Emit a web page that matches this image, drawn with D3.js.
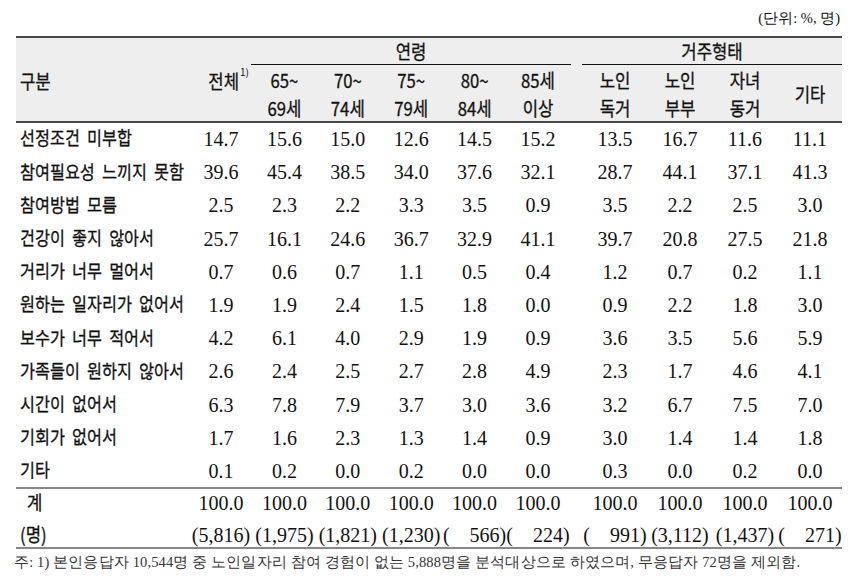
<!DOCTYPE html>
<html>
<head>
<meta charset="utf-8">
<script src="https://cdn.jsdelivr.net/npm/d3@7"></script>
<style>
  body { margin: 0; background: #fff; }
  svg text { white-space: pre; }
  .kr { font-family: "Noto Sans CJK KR", "Liberation Sans", sans-serif; fill: #111; stroke: #111; stroke-width: 0.3px; }
  .num { font-family: "Liberation Serif", "Times New Roman", serif; font-size: 20px; fill: #111; }
</style>
</head>
<body>
<svg class="svg" width="857" height="588"></svg>
<script>
// row labels
var categories = ['선정조건 미부합', '참여필요성 느끼지 못함', '참여방법 모름', '건강이 좋지 않아서',
  '거리가 너무 멀어서', '원하는 일자리가 없어서', '보수가 너무 적어서', '가족들이 원하지 않아서',
  '시간이 없어서', '기회가 없어서', '기타'];

// column headers
var ageLabels = [['65~', '69세'], ['70~', '74세'], ['75~', '79세'], ['80~', '84세'], ['85세', '이상']];
var houseLabels = [['노인', '독거'], ['노인', '부부'], ['자녀', '동거'], ['기타']];

// values per column
var total = [14.7, 39.6, 2.5, 25.7, 0.7, 1.9, 4.2, 2.6, 6.3, 1.7, 0.1];
var age65 = [15.6, 45.4, 2.3, 16.1, 0.6, 1.9, 6.1, 2.4, 7.8, 1.6, 0.2];
var age70 = [15.0, 38.5, 2.2, 24.6, 0.7, 2.4, 4.0, 2.5, 7.9, 2.3, 0.0];
var age75 = [12.6, 34.0, 3.3, 36.7, 1.1, 1.5, 2.9, 2.7, 3.7, 1.3, 0.2];
var age80 = [14.5, 37.6, 3.5, 32.9, 0.5, 1.8, 1.9, 2.8, 3.0, 1.4, 0.0];
var age85 = [15.2, 32.1, 0.9, 41.1, 0.4, 0.0, 0.9, 4.9, 3.6, 0.9, 0.0];
var alone = [13.5, 28.7, 3.5, 39.7, 1.2, 0.9, 3.6, 2.3, 3.2, 3.0, 0.3];
var couple = [16.7, 44.1, 2.2, 20.8, 0.7, 2.2, 3.5, 1.7, 6.7, 1.4, 0.0];
var withChild = [11.6, 37.1, 2.5, 27.5, 0.2, 1.8, 5.6, 4.6, 7.5, 1.4, 0.2];
var other = [11.1, 41.3, 3.0, 21.8, 1.1, 3.0, 5.9, 4.1, 7.0, 1.8, 0.0];
var sums = [100.0, 100.0, 100.0, 100.0, 100.0, 100.0, 100.0, 100.0, 100.0, 100.0];
var counts = [5816, 1975, 1821, 1230, 566, 224, 991, 3112, 1437, 271];

var columns = [total, age65, age70, age75, age80, age85, alone, couple, withChild, other];

var svg = d3.select('.svg');
var left = 16, right = 842;

// x positions: total + age columns, then household columns
var xAge = d3.scalePoint().domain(d3.range(6)).range([221, 538]);
var xHouse = d3.scalePoint().domain(d3.range(4)).range([615, 810]);
function colX(i) { return i < 6 ? xAge(i) : xHouse(i - 6); }

var y = d3.scalePoint().domain(categories).range([139, 471]);

var fmt = d3.format('.1f');
var fmtN = d3.format(',');

// unit note
svg.append('text').attr('class', 'num')
  .attr('x', 840).attr('y', 23).attr('text-anchor', 'end')
  .style('font-size', '14.5px')
  .text('(단위: %, 명)');

// header background
svg.append('rect')
  .attr('x', left).attr('y', 37).attr('width', right - left).attr('height', 85)
  .attr('fill', '#eeeeee');

// header lines
function hline(x1, x2, yy, w) {
  svg.append('line').attr('x1', x1).attr('x2', x2).attr('y1', yy).attr('y2', yy)
    .attr('stroke', '#111').attr('stroke-width', w);
}
hline(left, right, 37, 1.5);
hline(251, 571, 64.5, 1);
hline(582, right, 64.5, 1);
hline(left, right, 122, 1.5);
hline(left, right, 488, 1.2);
hline(left, right, 548, 1.2);

// condensed korean text like the original
function headText(x, yy, s, anchor, size) {
  return svg.append('text').attr('class', 'kr')
    .attr('transform', 'translate(' + x + ',' + yy + ') scale(0.88,1)')
    .attr('text-anchor', anchor || 'middle')
    .attr('dy', '0.35em')
    .style('font-size', (size || 19) + 'px')
    .style('word-spacing', '4px')
    .text(s);
}

headText(20, 82, '구분', 'start');
headText(239, 82, '전체', 'end');
svg.append('text').attr('class', 'kr')
  .attr('x', 240).attr('y', 76).style('font-size', '10px').style('stroke-width', 0).text('1)');
headText((251 + 571) / 2, 52, '연령');
headText((582 + right) / 2, 52, '거주형태');

ageLabels.forEach(function (d, i) {
  headText(xAge(i + 1), 81, d[0]);
  headText(xAge(i + 1), 109, d[1]);
});
houseLabels.forEach(function (d, i) {
  if (d.length === 2) {
    headText(xHouse(i), 81, d[0]);
    headText(xHouse(i), 109, d[1]);
  } else {
    headText(xHouse(i), 95, d[0]);
  }
});

// row labels
categories.forEach(function (d) {
  headText(20, y(d), d, 'start', 18.5);
});

// body cells
columns.forEach(function (col, ci) {
  svg.selectAll('.c' + ci)
    .data(col)
    .enter().append('text')
    .attr('class', 'num c' + ci)
    .attr('x', colX(ci))
    .attr('y', function (d, i) { return y(categories[i]); })
    .attr('dy', '0.35em')
    .attr('text-anchor', 'middle')
    .text(function (d) { return fmt(d); });
});

// totals rows
var yTotal = 503, yCount = 535;
headText(27, yTotal, '계', 'start');
headText(20, yCount, '(명)', 'start');

svg.selectAll('.sum')
  .data(sums)
  .enter().append('text')
  .attr('class', 'num sum')
  .attr('x', function (d, i) { return colX(i); })
  .attr('y', yTotal).attr('dy', '0.35em')
  .attr('text-anchor', 'middle')
  .text(function (d) { return fmt(d); });

svg.selectAll('.cnt')
  .data(counts)
  .enter().append('text')
  .attr('class', 'num cnt')
  .attr('x', function (d, i) { return colX(i); })
  .attr('y', yCount).attr('dy', '0.35em')
  .attr('text-anchor', 'middle')
  .text(function (d) { return d < 1000 ? '(\u2002\u2002' + d + ')' : '(' + fmtN(d) + ')'; });

// footnote
svg.append('text').attr('class', 'num')
  .attr('x', 14).attr('y', 562).attr('dy', '0.35em')
  .attr('textLength', 786).attr('lengthAdjust', 'spacing')
  .style('font-size', '14.5px').style('fill', '#333')
  .text('주: 1) 본인응답자 10,544명 중 노인일자리 참여 경험이 없는 5,888명을 분석대상으로 하였으며, 무응답자 72명을 제외함.');
</script>
</body>
</html>
